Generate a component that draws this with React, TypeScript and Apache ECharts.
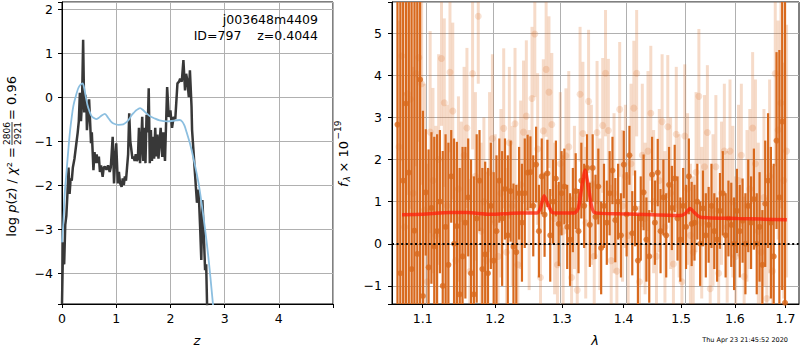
import React, { useEffect, useRef } from "react";
import * as echarts from "echarts";

// ---------- left panel: log p(z) ----------
const zBlack = [0.0, 0.02, 0.04, 0.06, 0.08, 0.10, 0.12, 0.14, 0.16, 0.18, 0.20, 0.23, 0.26, 0.29, 0.31, 0.33, 0.35, 0.37, 0.39, 0.41, 0.43, 0.45, 0.46, 0.48, 0.50, 0.52, 0.535, 0.55, 0.58, 0.60, 0.62, 0.64, 0.66, 0.68, 0.70, 0.72, 0.75, 0.77, 0.79, 0.82, 0.85, 0.88, 0.90, 0.935, 0.96, 0.98, 1.00, 1.03, 1.05, 1.07, 1.10, 1.12, 1.14, 1.16, 1.18, 1.20, 1.22, 1.24, 1.26, 1.27, 1.30, 1.32, 1.34, 1.36, 1.38, 1.40, 1.42, 1.44, 1.46, 1.48, 1.50, 1.52, 1.54, 1.56, 1.58, 1.60, 1.62, 1.64, 1.66, 1.68, 1.70, 1.72, 1.74, 1.76, 1.78, 1.82, 1.85, 1.87, 1.90, 1.94, 1.97, 2.00, 2.03, 2.06, 2.09, 2.13, 2.16, 2.18, 2.21, 2.24, 2.27, 2.29, 2.31, 2.34, 2.36, 2.39, 2.40, 2.43, 2.47, 2.49, 2.52, 2.55, 2.57, 2.59, 2.61, 2.64, 2.66, 2.68];
const logpBlack = [-4.7, -3.3, -3.8, -2.9, -2.7, -2.2, -1.6, -2.2, -1.85, -1.9, -1.6, -1.4, -1.1, -0.8, -0.55, 0.1, -0.55, -0.1, 1.3, -0.35, 0.05, -0.15, -0.75, -0.4, -0.05, -0.6, -1.05, -0.8, -1.66, -1.25, -1.5, -1.3, -1.5, -1.35, -1.7, -1.55, -1.81, -1.6, -1.58, -1.65, -1.55, -1.7, -1.6, -0.9, -1.96, -1.4, -1.05, -1.96, -1.7, -1.95, -2.04, -1.85, -2.0, -1.8, -1.9, -1.6, -1.3, -0.37, -1.0, -1.1, -1.4, -1.35, -1.45, -1.3, -1.45, -1.4, -0.7, -1.5, -1.1, -0.45, -1.45, -0.7, -1.5, -0.4, -0.8, 0.2, -1.5, -0.75, -1.45, -0.9, -1.4, -0.7, -1.35, -0.85, -1.4, -0.7, -1.36, -0.8, -1.45, 0.23, -0.45, -0.3, -0.7, -0.45, -0.5, 0.31, 0.35, 0.42, 0.35, 0.84, 0.15, 0.53, 0.4, 0.0, 0.61, -0.22, -0.75, -1.3, -2.04, -2.4, -2.1, -3.0, -3.7, -2.34, -2.9, -3.93, -3.8, -4.9];
const zBlue = [0.0, 0.02, 0.05, 0.086, 0.12, 0.15, 0.18, 0.21, 0.25, 0.30, 0.34, 0.38, 0.41, 0.44, 0.47, 0.50, 0.54, 0.58, 0.63, 0.68, 0.73, 0.79, 0.85, 0.90, 0.95, 1.04, 1.13, 1.19, 1.24, 1.28, 1.33, 1.37, 1.44, 1.50, 1.56, 1.62, 1.70, 1.80, 1.95, 2.10, 2.17, 2.22, 2.26, 2.30, 2.36, 2.42, 2.52, 2.61, 2.70, 2.79];
const logpBlue = [-3.3, -2.95, -2.2, -1.66, -1.15, -0.75, -0.45, -0.2, 0.0, 0.2, 0.28, 0.31, 0.2, 0.0, -0.18, -0.3, -0.42, -0.47, -0.5, -0.47, -0.42, -0.38, -0.47, -0.55, -0.6, -0.63, -0.62, -0.57, -0.5, -0.42, -0.35, -0.3, -0.25, -0.3, -0.37, -0.43, -0.48, -0.53, -0.55, -0.53, -0.52, -0.56, -0.65, -0.8, -1.05, -1.36, -1.96, -2.72, -3.63, -4.77];
const zTicks = [0, 1, 2, 3, 4];

// ---------- right panel: spectrum ----------
// wavelength grid (micron): first pixel and constant pixel ratio of each spectrum
const DARK_LAM0 = 1.0672;
const LIGHT_LAM0 = 1.0692;
const LAM_RATIO = 1.003401;
const darkFlux = [
  2.83, -0.7, 1.5, 3.33, 1.69, -0.6, 0.31, -0.24, 3.9, -1.24,
  1.22, -0.56, 0.85, -0.06, 0.3, 1.0, -1.0, 0.4, -0.5, 1.6,
  0.0, 0.42, -1.2, -0.3, 0.5, 1.1, -0.7, -1.2, 0.6, 1.5,
  -0.6, -0.25, -0.7, 0.9, -0.4, 0.3, 1.5, 0.6, 1.3, 0.2,
  1.25, -0.07, -0.2, 1.2, 0.5, 1.2, 1.69, 1.7, 0.9, 1.88,
  0.3, 1.6, 0.69, 1.67, 0.2, 1.0, 1.55, 0.47, 1.2, 1.36,
  0.4, 0.1, 0.8, 1.25, 0.3, 1.5, 0.9, 1.8, 0.45, 1.8,
  0.64, 1.36, -0.1, 0.9, 0.5, 1.2, 1.74, 0.56, 1.0, 0.2,
  1.88, 0.7, 2.1, 0.25, 0.84, -0.4, 0.6, 1.22, 0.1, -0.3,
  1.64, 0.5, 1.69, 0.3, 1.1, 0.2, 1.4, 0.85, 1.55, 0.6,
  0.1, 0.9, 0.4, 1.6, 0.47, 0.5, 1.0, 0.0, 0.84, 0.2,
  0.45, 0.9, 0.3, 0.1, 0.78, 1.2, 0.2, 0.6, 0.45, 0.0,
  0.78, 0.3, 0.55, 0.0, 0.9, 0.5, 1.06, 0.0, 0.4, -0.5,
  0.95, 1.5, 0.5, -0.3, 2.45, 1.1, 2.9, -1.4,
];
const darkErr = [
  8, 7, 9, 6, 10, 7, 8, 6, 7, 4.4,
  1.5, 2.8, 1.8, 2.6, 2.3, 1.7, 3.2, 2.2, 2.9, 1.1,
  2.5, 2.0, 3.0, 2.6, 1.8, 1.4, 2.7, 2.8, 2.0, 1.2,
  2.4, 2.2, 2.5, 1.5, 2.1, 1.8, 1.0, 1.6, 1.2, 1.9,
  1.2, 1.5, 1.6, 1.1, 1.4, 1.3, 0.9, 0.85, 1.2, 0.9,
  1.1, 0.9, 1.0, 0.8, 1.1, 1.0, 0.9, 1.0, 1.0, 0.9,
  1.0, 1.1, 1.0, 0.9, 1.0, 0.9, 1.0, 0.8, 1.0, 0.8,
  1.0, 0.9, 1.1, 1.0, 1.0, 1.0, 0.8, 1.0, 0.9, 1.0,
  0.8, 1.0, 0.7, 1.0, 0.9, 1.1, 1.0, 0.9, 1.0, 1.1,
  0.9, 1.0, 0.8, 1.0, 0.9, 1.0, 0.9, 1.0, 0.8, 1.0,
  1.0, 0.9, 1.0, 0.9, 1.0, 0.9, 0.9, 1.0, 0.9, 1.0,
  0.9, 1.0, 0.9, 1.0, 0.9, 1.0, 1.0, 0.9, 1.0, 1.1,
  1.0, 1.1, 1.0, 1.2, 1.1, 1.1, 1.2, 1.2, 1.3, 1.3,
  1.5, 1.6, 1.8, 2.2, 2.1, 3.5, 4.0, 9.0,
];
const lightFlux = [
  2.3, 4.46, 0.4, 3.56, 3.43, 1.2, 4.04, 4.42, 3.8, 0.8,
  -0.9, 2.65, 1.5, 0.2, 2.0, 4.4, 3.35, 0.9, 4.07, 3.15,
  -0.4, 1.3, 0.6, 2.1, 2.75, -0.66, 4.04, 1.6, 5.4, 0.3,
  1.0, -0.4, 1.7, 2.5, 0.5, -0.3, 1.2, 2.74, -0.2, 2.4,
  0.9, 2.85, -0.5, 1.4, 2.65, 3.03, 0.8, 3.45, 4.98, 2.25,
  -0.8, 2.68, 4.14, 3.6, 2.83, 0.6, -0.5, 1.9, 0.3, 2.09,
  2.3, -0.8, 1.1, -1.1, 3.55, 2.62, 0.5, 3.38, 1.4, -0.3,
  2.64, 0.7, 2.81, 4.05, 2.69, -0.4, 1.2, -0.65, 3.19, 0.9,
  1.6, 0.2, 1.9, 3.22, 4.05, -0.9, 2.1, 0.6, 2.2, 3.1,
  1.0, -0.3, 1.5, 2.9, 0.4, 2.78, 1.2, -0.48, 2.6, 0.9,
  -0.9, 2.56, 1.3, 0.2, -0.2, 1.7, 3.5, 0.5, 1.83, 2.64,
  -1.07, 0.8, 1.83, -0.7, 1.2, 2.2, 0.4, 2.2, 1.0, -0.3,
  1.5, 2.1, -0.78, 0.9, 1.3, 2.75, 1.9, 0.3, -0.2, 1.1,
  -1.3, 1.6, -0.65, 4.04, 2.7, 3.34, 1.5, 2.2,
];
const lightErr = [
  3.0, 2.5, 3.2, 2.4, 2.6, 3.0, 2.2, 2.0, 2.4, 3.0,
  2.8, 2.4, 2.2, 2.6, 2.5, 1.6, 2.0, 2.4, 1.9, 2.1,
  2.4, 2.2, 2.3, 2.1, 1.9, 2.2, 1.8, 2.0, 1.6, 2.1,
  2.0, 2.1, 1.9, 2.0, 2.1, 1.8, 2.0, 1.9, 2.0, 1.8,
  1.9, 1.8, 1.9, 2.0, 1.7, 1.8, 1.9, 1.7, 1.5, 1.8,
  1.9, 1.7, 1.6, 1.8, 1.7, 1.8, 1.9, 1.7, 1.8, 1.6,
  1.8, 1.9, 1.7, 1.8, 1.6, 1.7, 1.8, 1.7, 1.9, 1.8,
  1.7, 1.8, 1.6, 1.5, 1.7, 1.8, 1.9, 1.7, 1.6, 1.8,
  1.7, 1.8, 1.9, 1.6, 1.5, 1.8, 1.7, 1.8, 1.9, 1.6,
  1.7, 1.8, 1.7, 1.6, 1.8, 1.7, 1.8, 1.9, 1.6, 1.7,
  1.8, 1.7, 1.8, 1.7, 1.8, 1.9, 1.6, 1.8, 1.7, 1.6,
  1.9, 1.8, 1.7, 1.8, 1.7, 1.6, 1.8, 1.7, 1.8, 1.9,
  1.8, 1.7, 1.9, 1.8, 1.9, 1.8, 2.0, 2.1, 2.2, 2.1,
  2.4, 2.3, 2.5, 2.2, 2.6, 2.5, 2.8, 3.0,
];
const modelLam = [1.073, 1.10, 1.137, 1.16, 1.192, 1.236, 1.262, 1.267, 1.2726, 1.278, 1.284, 1.29, 1.32, 1.326, 1.331, 1.3367, 1.342, 1.347, 1.352, 1.394, 1.45, 1.50, 1.508, 1.516, 1.524, 1.535, 1.606, 1.703];
const modelFlux = [0.69, 0.70, 0.74, 0.74, 0.70, 0.73, 0.73, 0.85, 1.14, 0.95, 0.76, 0.73, 0.73, 0.85, 1.3, 1.75, 1.35, 0.9, 0.74, 0.71, 0.69, 0.67, 0.72, 0.84, 0.74, 0.63, 0.60, 0.57];
const lamTicks = [1.1, 1.2, 1.3, 1.4, 1.5, 1.6, 1.7];

const FONT = "DejaVu Sans";
const DARK = "#d8691d";
const LIGHT = "rgba(216,105,29,0.24)";
const GRIDC = "#b0b0b0";

function intLabel(v: number): string {
  const r = Math.round(v);
  if (Math.abs(v - r) > 1e-6) return "";
  return r < 0 ? "\u2212" + -r : String(r);
}

function errBars(color: string, width: number) {
  return (params: any, api: any) => {
    const x = api.value(0);
    const y = api.value(1);
    const e = api.value(2);
    const p1 = api.coord([x, y - e]);
    const p2 = api.coord([x, y + e]);
    return {
      type: "line",
      shape: { x1: p1[0], y1: p1[1], x2: p2[0], y2: p2[1] },
      style: { stroke: color, lineWidth: width },
    };
  };
}

export default function App() {
  const ref = useRef<HTMLDivElement>(null);
  useEffect(() => {
    if (!ref.current) return;
    const chart = echarts.init(ref.current, null, { renderer: "svg" });
    const ln = Math.log;
    const darkData = darkFlux.map((f, i) => [ln(DARK_LAM0 * Math.pow(LAM_RATIO, i)), f, darkErr[i]]);
    const lightData = lightFlux.map((f, i) => [ln(LIGHT_LAM0 * Math.pow(LAM_RATIO, i)), f, lightErr[i]]);
    const modelData = modelLam.map((l, i) => [ln(l), modelFlux[i]]);
    const lnTicks = lamTicks.map((t) => ln(t));

    const axisCommon = {
      axisLine: { show: true, onZero: false, lineStyle: { color: "#000", width: 1 } },
      axisTick: { show: true, inside: false, length: 4, lineStyle: { color: "#000", width: 1 } },
      axisLabel: { color: "#000", fontFamily: FONT, fontSize: 12.5 },
      splitLine: { show: true, lineStyle: { color: GRIDC, width: 1 } },
    };

    const option: any = {
      animation: false,
      grid: [
        { left: 62, top: 2, width: 271, height: 302, show: true, borderColor: "#000", borderWidth: 1, containLabel: false },
        { left: 392, top: 2, width: 407, height: 302, show: true, borderColor: "#000", borderWidth: 1, containLabel: false },
      ],
      xAxis: [
        {
          ...axisCommon,
          type: "value",
          gridIndex: 0,
          min: zTicks[0],
          max: 5,
          interval: 1,
          axisLabel: { ...axisCommon.axisLabel, margin: 8, formatter: (v: number) => (v >= 4.5 ? "" : intLabel(v)) },
        },
        {
          ...axisCommon,
          type: "value",
          gridIndex: 1,
          min: ln(1.0602),
          max: ln(1.728),
          splitLine: { show: false },
          axisTick: { ...axisCommon.axisTick, customValues: lnTicks },
          axisLabel: { ...axisCommon.axisLabel, margin: 8, customValues: lnTicks, formatter: (v: number) => Math.exp(v).toFixed(1) },
        },
      ],
      yAxis: [
        {
          ...axisCommon,
          type: "value",
          gridIndex: 0,
          min: -4.7,
          max: 2.16,
          splitNumber: 7,
          axisLabel: { ...axisCommon.axisLabel, margin: 9, formatter: intLabel },
        },
        {
          ...axisCommon,
          type: "value",
          gridIndex: 1,
          min: -1.43,
          max: 5.74,
          splitNumber: 7,
          axisLabel: { ...axisCommon.axisLabel, margin: 10, formatter: intLabel },
        },
      ],
      series: [
        {
          type: "line",
          xAxisIndex: 0,
          yAxisIndex: 0,
          data: zBlack.map((z, i) => [z, logpBlack[i]]),
          showSymbol: false,
          lineStyle: { color: "#383838", width: 2.5 },
          z: 3,
          silent: true,
        },
        {
          type: "line",
          xAxisIndex: 0,
          yAxisIndex: 0,
          data: zBlue.map((z, i) => [z, logpBlue[i]]),
          showSymbol: false,
          smooth: 0.3,
          lineStyle: { color: "#8cbfe0", width: 1.8 },
          z: 4,
          silent: true,
        },
        {
          type: "line",
          xAxisIndex: 1,
          yAxisIndex: 1,
          data: [],
          z: 1,
          silent: true,
          markLine: {
            silent: true,
            z: 1,
            symbol: ["none", "none"],
            label: { show: false },
            lineStyle: { color: GRIDC, type: "solid", width: 1 },
            data: lnTicks.map((t) => ({ xAxis: t })),
          },
        },
        {
          type: "custom",
          xAxisIndex: 1,
          yAxisIndex: 1,
          clip: true,
          data: lightData,
          renderItem: errBars(LIGHT, 3),
          encode: { x: 0, y: 1 },
          z: 2,
          silent: true,
        },
        {
          type: "scatter",
          xAxisIndex: 1,
          yAxisIndex: 1,
          data: lightData.map((d) => [d[0], d[1]]),
          symbolSize: 7,
          itemStyle: { color: LIGHT },
          z: 2,
          silent: true,
        },
        {
          type: "custom",
          xAxisIndex: 1,
          yAxisIndex: 1,
          clip: true,
          data: darkData,
          renderItem: errBars(DARK, 2.2),
          encode: { x: 0, y: 1 },
          z: 3,
          silent: true,
        },
        {
          type: "scatter",
          xAxisIndex: 1,
          yAxisIndex: 1,
          data: darkData.map((d) => [d[0], d[1]]),
          symbolSize: 6,
          itemStyle: { color: DARK },
          z: 3,
          silent: true,
        },
        {
          type: "line",
          xAxisIndex: 1,
          yAxisIndex: 1,
          data: modelData,
          showSymbol: false,
          smooth: 0.2,
          lineStyle: { color: "rgba(255,30,10,0.75)", width: 3.5 },
          z: 4,
          silent: true,
        },
        {
          type: "line",
          xAxisIndex: 1,
          yAxisIndex: 1,
          data: [],
          z: 6,
          silent: true,
          markLine: {
            silent: true,
            z: 6,
            symbol: ["none", "none"],
            label: { show: false },
            lineStyle: { color: "#000", type: [2, 2.6], width: 2 },
            data: [{ yAxis: 0 }],
          },
        },
      ],
      graphic: [
        {
          type: "text",
          x: 318,
          y: 19,
          silent: true,
          z: 100,
          style: { text: "j003648m4409", fill: "#000", font: `12.5px '${FONT}'`, align: "right", verticalAlign: "middle" },
        },
        {
          type: "text",
          x: 318,
          y: 35.5,
          silent: true,
          z: 100,
          style: { text: "ID=797    z=0.4044", fill: "#000", font: `12.5px '${FONT}'`, align: "right", verticalAlign: "middle" },
        },
        {
          type: "text",
          x: 197,
          y: 340,
          silent: true,
          style: { text: "z", fill: "#000", font: `italic 13px '${FONT}'`, align: "center", verticalAlign: "middle" },
        },
        {
          type: "text",
          x: 595,
          y: 340,
          silent: true,
          style: { text: "λ", fill: "#000", font: `italic 13px '${FONT}'`, align: "center", verticalAlign: "middle" },
        },
        {
          type: "text",
          x: 788,
          y: 339.5,
          silent: true,
          style: { text: "Thu Apr 23 21:45:52 2020", fill: "#000", font: `6.5px '${FONT}'`, align: "right", verticalAlign: "middle" },
        },
        {
          type: "group",
          x: 11,
          y: 157,
          rotation: Math.PI / 2,
          silent: true,
          children: [
            {
              type: "text",
              x: 10,
              y: 0,
              style: {
                text: "{n|log }{i|p}{n|(}{i|z}{n|) / }{i|χ}{n|² =}",
                rich: {
                  n: { fontFamily: FONT, fontSize: 13, fill: "#000" },
                  i: { fontFamily: FONT, fontSize: 13, fontStyle: "italic", fill: "#000" },
                },
                align: "right",
                verticalAlign: "middle",
              },
            },
            { type: "text", x: 23.5, y: -4.5, style: { text: "2806", fill: "#000", font: `9px '${FONT}'`, align: "center", verticalAlign: "middle" } },
            { type: "line", shape: { x1: 12, y1: 1, x2: 35, y2: 1 }, style: { stroke: "#000", lineWidth: 0.8 } },
            { type: "text", x: 23.5, y: 6.5, style: { text: "2921", fill: "#000", font: `9px '${FONT}'`, align: "center", verticalAlign: "middle" } },
            { type: "text", x: 37, y: 0, style: { text: "= 0.96", fill: "#000", font: `13px '${FONT}'`, align: "left", verticalAlign: "middle" } },
          ],
        },
        {
          type: "group",
          x: 343,
          y: 152.5,
          rotation: Math.PI / 2,
          silent: true,
          children: [
            { type: "text", x: -34.5, y: 0, style: { text: "f", fill: "#000", font: `italic 13px '${FONT}'`, align: "left", verticalAlign: "middle" } },
            { type: "text", x: -29, y: 4, style: { text: "λ", fill: "#000", font: `italic 9px '${FONT}'`, align: "left", verticalAlign: "middle" } },
            { type: "text", x: -20, y: 0, style: { text: "× 10", fill: "#000", font: `13px '${FONT}'`, align: "left", verticalAlign: "middle" } },
            { type: "text", x: 13, y: -5, style: { text: "\u221219", fill: "#000", font: `9px '${FONT}'`, align: "left", verticalAlign: "middle" } },
          ],
        },
      ],
    };
    chart.setOption(option);
    return () => chart.dispose();
  }, []);
  return <div ref={ref} style={{ position: "fixed", left: 0, top: 0, width: 800, height: 350, background: "#fff" }} />;
}
